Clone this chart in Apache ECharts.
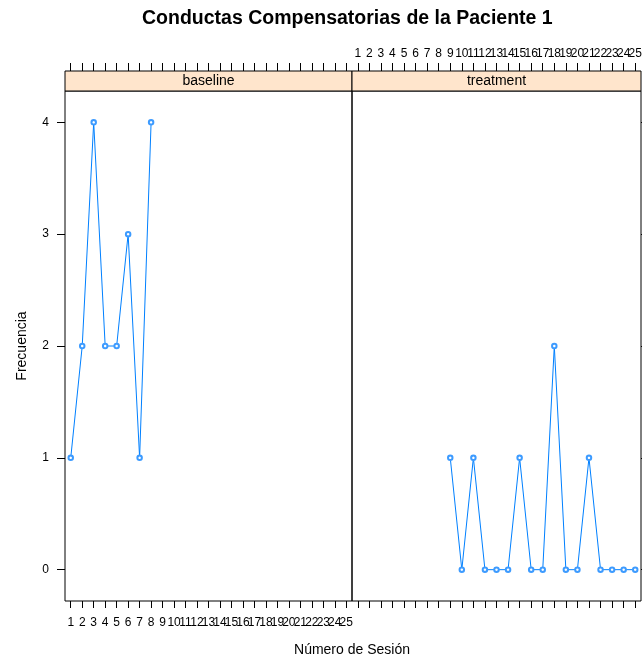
<!DOCTYPE html>
<html>
<head>
<meta charset="utf-8">
<script src="https://cdn.jsdelivr.net/npm/echarts@6/dist/echarts.min.js"></script>
<style>
  html, body { margin: 0; padding: 0; background: #fff; }
  #chart { width: 642px; height: 662px; }
</style>
</head>
<body>
<div id="chart"></div>
<script>
// Session labels shared by both panels
const sessionLabels = ['1','2','3','4','5','6','7','8','9','10','11','12','13',
  '14','15','16','17','18','19','20','21','22','23','24','25'];

// Baseline phase
const baselineSessions = ['1','2','3','4','5','6','7','8'];
const baselineFreq = [1, 2, 4, 2, 2, 3, 1, 4];

// Treatment phase
const treatmentSessions = ['9','10','11','12','13','14','15','16','17','18','19',
  '20','21','22','23','24','25'];
const treatmentFreq = [1, 0, 1, 0, 0, 0, 1, 0, 0, 2, 0, 0, 1, 0, 0, 0, 0];

const yTicks = [0, 1, 2, 3, 4];
const panelNames = ['baseline', 'treatment'];

const FONT = '"Liberation Sans", Arial, sans-serif';
const LINE = '#0080ff';

const P = { top: 91, bottom: 601, stripH: 20 };
const panels = [
  { left: 65, right: 352 },
  { left: 352, right: 641 }
];

const chart = echarts.init(document.getElementById('chart'), null, { renderer: 'canvas' });

function pairs(xs, ys) { return xs.map((x, i) => [x, ys[i]]); }

const grids = panels.map(p => ({
  left: p.left, top: P.top, width: p.right - p.left, height: P.bottom - P.top,
  outerBoundsMode: 'none', containLabel: false,
  show: true, borderColor: '#000', borderWidth: 1, backgroundColor: 'transparent'
}));

const tickStyle = { lineStyle: { color: '#000', width: 1 } };
const labelStyle = { color: '#000', fontSize: 12, fontFamily: FONT, interval: 0, hideOverlap: false };

const xAxes = [];
panels.forEach((p, i) => {
  // bottom axis: labels only under the first panel
  xAxes.push({
    type: 'category', gridIndex: i, position: 'bottom', data: sessionLabels,
    boundaryGap: true,
    axisLine: { show: false, onZero: false },
    axisTick: { show: true, alignWithLabel: true, interval: 0, length: 7, ...tickStyle },
    axisLabel: { show: i === 0, margin: 16, ...labelStyle },
    splitLine: { show: false }
  });
  // top axis sits above the strip; labels only over the second panel
  xAxes.push({
    type: 'category', gridIndex: i, position: 'top', offset: P.stripH, data: sessionLabels,
    boundaryGap: true,
    axisLine: { show: false, onZero: false },
    axisTick: { show: true, alignWithLabel: true, interval: 0, length: 8, ...tickStyle },
    axisLabel: { show: i === 1, margin: 11, ...labelStyle },
    splitLine: { show: false }
  });
});

const yAxes = [];
panels.forEach((p, i) => {
  yAxes.push({
    type: 'value', gridIndex: i, position: i === 0 ? 'left' : 'right',
    min: -0.28, max: 4.28,
    axisLine: { show: false, onZero: false },
    axisTick: { show: true, length: 8, customValues: yTicks, ...tickStyle },
    axisLabel: { show: i === 0, margin: 16, customValues: yTicks, color: '#000', fontSize: 12, fontFamily: FONT },
    splitLine: { show: false }
  });
});

function lineSeries(gridIdx, data) {
  return {
    type: 'line', xAxisIndex: gridIdx * 2, yAxisIndex: gridIdx, data: data,
    symbol: 'emptyCircle', symbolSize: 4.5, showSymbol: true,
    lineStyle: { color: LINE, width: 1 },
    itemStyle: { color: '#3d9bff', borderColor: '#3d9bff', borderWidth: 0.8 },
    emphasis: { disabled: true }, animation: false, z: 3
  };
}

// Strip headers above each panel
const strips = [];
panels.forEach((p, i) => {
  strips.push({
    type: 'rect',
    shape: { x: p.left, y: P.top - P.stripH, width: p.right - p.left, height: P.stripH },
    style: { fill: '#ffe5cc', stroke: '#000', lineWidth: 1 },
    z: 10
  });
  strips.push({
    type: 'text',
    x: (p.left + p.right) / 2, y: P.top - P.stripH / 2,
    style: { text: panelNames[i], font: '14px ' + FONT, fill: '#000', textAlign: 'center', textVerticalAlign: 'middle' },
    z: 11
  });
});

chart.setOption({
  animation: false,
  backgroundColor: '#fff',
  title: {
    text: 'Conductas Compensatorias de la Paciente 1',
    left: 137, top: 4,
    textStyle: { fontSize: 19.5, fontWeight: 'bold', color: '#000', fontFamily: FONT }
  },
  grid: grids,
  xAxis: xAxes,
  yAxis: yAxes,
  series: [
    lineSeries(0, pairs(baselineSessions, baselineFreq)),
    lineSeries(1, pairs(treatmentSessions, treatmentFreq))
  ],
  graphic: strips.concat([
    {
      type: 'text', x: 352, y: 650,
      style: { text: 'Número de Sesión', font: '14px ' + FONT, fill: '#000', textAlign: 'center', textVerticalAlign: 'middle' }
    },
    {
      type: 'text', x: 22, y: 346, rotation: Math.PI / 2,
      style: { text: 'Frecuencia', font: '14px ' + FONT, fill: '#000', textAlign: 'center', textVerticalAlign: 'middle' }
    }
  ])
});
</script>
</body>
</html>
